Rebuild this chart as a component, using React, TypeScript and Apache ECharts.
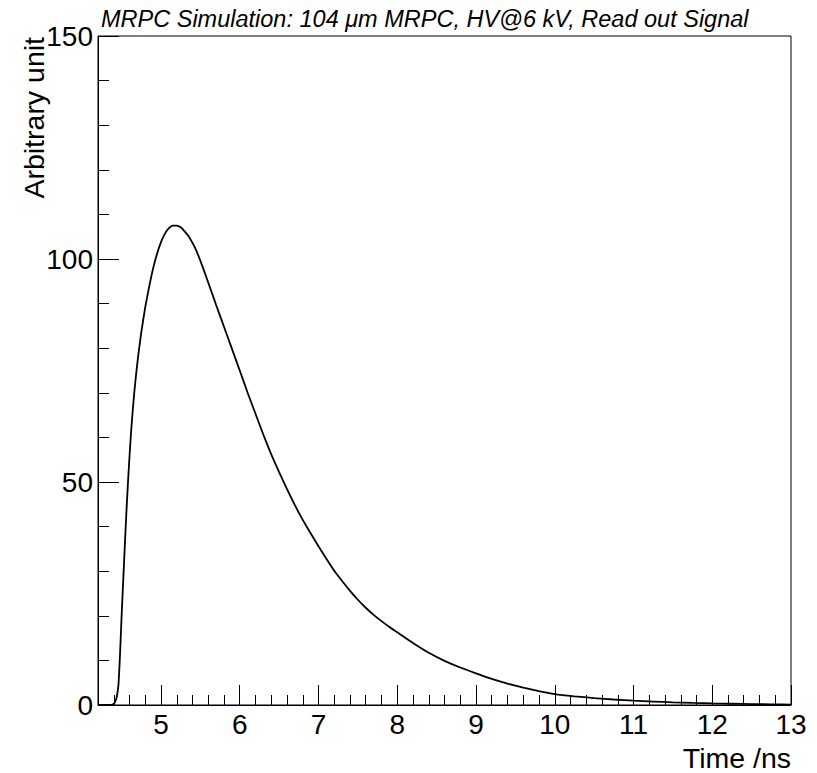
import React, { useEffect, useRef } from "react";
import * as echarts from "echarts";

const timeNs = [
  4.2, 4.3, 4.36, 4.38, 4.4, 4.42, 4.44, 4.46, 4.48, 4.5, 4.52, 4.54, 4.56, 4.58,
  4.6, 4.62, 4.64, 4.66, 4.68, 4.7, 4.72, 4.75, 4.8, 4.85, 4.9, 4.95, 5.0, 5.05,
  5.1, 5.15, 5.2, 5.25, 5.3, 5.35, 5.4, 5.45, 5.5, 5.55, 5.6, 5.65, 5.7, 5.8,
  5.9, 6.0, 6.1, 6.2, 6.3, 6.4, 6.5, 6.6, 6.7, 6.8, 6.9, 7.0, 7.1, 7.2, 7.3,
  7.4, 7.5, 7.6, 7.7, 7.8, 7.9, 8.0, 8.2, 8.4, 8.6, 8.8, 9.0, 9.2, 9.4, 9.6,
  9.8, 10.0, 10.25, 10.5, 10.75, 11.0, 11.25, 11.5, 11.75, 12.0, 12.25, 12.5,
  12.75, 13.0,
];
const signal = [
  0, 0, 0.02, 0.08, 0.25, 0.8, 2.0, 4.6, 11.5, 20, 27.8, 35.6, 43, 49.7,
  55.7, 61.2, 65.8, 69.9, 73.5, 76.7, 79.6, 83.6, 89.2, 93.8, 97.9, 101.2, 103.8, 105.7,
  106.9, 107.5, 107.5, 107.1, 106.2, 105.1, 103.6, 101.8, 99.6, 97.2, 94.7, 92.2, 89.7, 84.8,
  79.9, 75.0, 70.0, 65.3, 60.6, 56.2, 52.2, 48.4, 44.8, 41.5, 38.5, 35.6, 32.8, 30.1, 27.8,
  25.6, 23.6, 21.8, 20.2, 18.8, 17.5, 16.3, 13.9, 11.7, 9.9, 8.4, 7.1, 5.85, 4.8, 3.9,
  3.1, 2.45, 1.95, 1.55, 1.23, 0.96, 0.77, 0.6, 0.47, 0.36, 0.28, 0.2,
  0.15, 0.1,
];
const xMajorTicks = [5, 6, 7, 8, 9, 10, 11, 12, 13];
const xMinorTicks = [
  4.4, 4.6, 4.8, 5.2, 5.4, 5.6, 5.8, 6.2, 6.4, 6.6, 6.8, 7.2, 7.4, 7.6, 7.8,
  8.2, 8.4, 8.6, 8.8, 9.2, 9.4, 9.6, 9.8, 10.2, 10.4, 10.6, 10.8, 11.2, 11.4,
  11.6, 11.8, 12.2, 12.4, 12.6, 12.8,
];
const titleText = "MRPC Simulation: 104 \u03bcm MRPC, HV@6 kV, Read out Signal";
const xTitle = "Time /ns";
const yTitle = "Arbitrary unit";

const FONT = "'Liberation Sans', Arial, Helvetica, sans-serif";

export default function App() {
  const ref = useRef<HTMLDivElement>(null);
  useEffect(() => {
    if (!ref.current) return;
    const chart = echarts.init(ref.current, undefined, { renderer: "svg" });
    const data = timeNs.map((t, i) => [t, signal[i]]);
    chart.setOption({
      animation: false,
      backgroundColor: "#fff",
      title: {
        text: titleText,
        left: 96,
        top: 2,
        textStyle: {
          fontFamily: FONT,
          fontStyle: "italic",
          fontWeight: "normal",
          fontSize: 23.5,
          color: "#000",
        },
      },
      grid: {
        left: 98,
        right: 26,
        top: 36,
        bottom: 68,
        show: true,
        borderColor: "#000",
        borderWidth: 1,
        backgroundColor: "transparent",
      },
      xAxis: [
        {
          type: "value",
          min: 4.2,
          max: 13,
          axisLine: { show: true, lineStyle: { color: "#000", width: 1 } },
          splitLine: { show: false },
          axisTick: {
            show: true,
            inside: true,
            length: 20,
            customValues: xMajorTicks,
            lineStyle: { color: "#000", width: 1 },
          },
          axisLabel: {
            customValues: xMajorTicks,
            fontFamily: FONT,
            fontSize: 28,
            color: "#000",
            margin: 5,
          },
        },
        {
          type: "value",
          min: 4.2,
          max: 13,
          position: "bottom",
          axisLine: { show: false },
          splitLine: { show: false },
          axisTick: {
            show: true,
            inside: true,
            length: 10,
            customValues: xMinorTicks,
            lineStyle: { color: "#000", width: 1 },
          },
          axisLabel: { show: false },
        },
      ],
      yAxis: {
        type: "value",
        min: 0,
        max: 150,
        interval: 50,
        axisLine: { show: true, lineStyle: { color: "#000", width: 1 } },
        splitLine: { show: false },
        axisTick: {
          show: true,
          inside: true,
          length: 21,
          lineStyle: { color: "#000", width: 1 },
        },
        minorTick: {
          show: true,
          splitNumber: 5,
          length: 11,
          lineStyle: { color: "#000", width: 1 },
        },
        axisLabel: {
          fontFamily: FONT,
          fontSize: 28,
          color: "#000",
          margin: 5,
        },
      },
      graphic: [
        {
          type: "text",
          x: 34,
          y: 37,
          rotation: Math.PI / 2,
          style: {
            text: yTitle,
            fontFamily: FONT,
            fontSize: 28.5,
            fill: "#000",
            textAlign: "right",
            textVerticalAlign: "middle",
          },
        },
        {
          type: "text",
          x: 791,
          y: 758,
          style: {
            text: xTitle,
            fontFamily: FONT,
            fontSize: 28.5,
            fill: "#000",
            textAlign: "right",
            textVerticalAlign: "middle",
          },
        },
      ],
      series: [
        {
          type: "line",
          xAxisIndex: 0,
          data,
          showSymbol: false,
          smooth: 0.15,
          lineStyle: { color: "#000", width: 1.8 },
        },
      ],
    });
    return () => chart.dispose();
  }, []);
  return (
    <div
      ref={ref}
      style={{ position: "fixed", left: 0, top: 0, width: 817, height: 773 }}
    />
  );
}
